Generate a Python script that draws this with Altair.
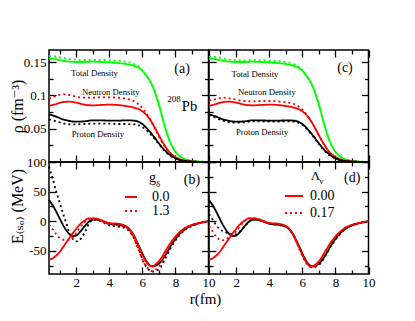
import altair as alt
import pandas as pd

# ---------------- data ----------------
r_rho = [0.36, 0.8, 1.2, 1.6, 2.0, 2.5, 3.0, 3.5, 4.0, 4.5, 5.0, 5.5, 5.8, 6.1,
         6.4, 6.7, 7.0, 7.3, 7.6, 7.9, 8.2, 8.5, 8.9, 9.3, 10.0]

# solid lines (g_delta = 0 / Lambda_v = 0), same in (a) and (c)
rho_total_0 = [0.155, 0.154, 0.152, 0.1505, 0.150, 0.150, 0.1505, 0.150, 0.1495, 0.1485, 0.147, 0.144, 0.141,
               0.134, 0.124, 0.109, 0.0865, 0.059, 0.035, 0.019, 0.010, 0.005, 0.002, 0.001, 0.0]
rho_neutron_0 = [0.084, 0.087, 0.090, 0.0905, 0.089, 0.086, 0.085, 0.0855, 0.086, 0.0855, 0.084, 0.0815, 0.079,
                 0.074, 0.066, 0.054, 0.040, 0.027, 0.016, 0.009, 0.005, 0.0025, 0.001, 0.0004, 0.0]
rho_proton_0 = [0.0715, 0.068, 0.064, 0.0615, 0.0605, 0.061, 0.0625, 0.0625, 0.062, 0.062, 0.0625, 0.062, 0.060,
                0.055, 0.047, 0.038, 0.028, 0.019, 0.012, 0.007, 0.0035, 0.0017, 0.0007, 0.0003, 0.0]
# dotted lines in (a): g_delta = 1.3
rho_total_g13 = [0.159, 0.158, 0.156, 0.1545, 0.1535, 0.153, 0.153, 0.153, 0.1525, 0.152, 0.1505, 0.147, 0.143,
                 0.135, 0.124, 0.109, 0.0865, 0.059, 0.035, 0.019, 0.010, 0.005, 0.002, 0.001, 0.0]
rho_neutron_g13 = [0.095, 0.099, 0.1015, 0.1005, 0.098, 0.0965, 0.0965, 0.097, 0.097, 0.0965, 0.095, 0.091, 0.086,
                   0.078, 0.067, 0.053, 0.038, 0.025, 0.015, 0.008, 0.004, 0.002, 0.0008, 0.0003, 0.0]
rho_proton_g13 = [0.064, 0.061, 0.058, 0.0565, 0.0565, 0.057, 0.0575, 0.0575, 0.0575, 0.057, 0.057, 0.0565, 0.055,
                  0.051, 0.044, 0.036, 0.027, 0.018, 0.011, 0.006, 0.003, 0.0015, 0.0006, 0.0002, 0.0]
# dotted lines in (c): Lambda_v = 0.17
rho_total_l017 = [0.158, 0.1575, 0.1555, 0.1535, 0.1525, 0.1525, 0.153, 0.1525, 0.152, 0.1515, 0.150, 0.1465, 0.1425,
                  0.135, 0.124, 0.109, 0.0865, 0.059, 0.035, 0.019, 0.010, 0.005, 0.002, 0.001, 0.0]
rho_neutron_l017 = [0.092, 0.0945, 0.0965, 0.0955, 0.0935, 0.0915, 0.091, 0.0915, 0.0915, 0.091, 0.0895, 0.087, 0.083,
                    0.076, 0.066, 0.054, 0.040, 0.027, 0.016, 0.009, 0.005, 0.0025, 0.001, 0.0004, 0.0]
rho_proton_l017 = [0.0705, 0.066, 0.062, 0.0595, 0.059, 0.0595, 0.061, 0.061, 0.0605, 0.0605, 0.061, 0.0605, 0.0585,
                   0.054, 0.046, 0.037, 0.027, 0.018, 0.011, 0.0065, 0.0033, 0.0016, 0.0006, 0.0002, 0.0]

r_eso = [0.36, 0.6, 0.8, 1.0, 1.2, 1.4, 1.6, 1.8, 2.0, 2.2, 2.5, 2.8, 3.1, 3.5, 4.0, 4.5,
         5.0, 5.4, 5.8, 6.1, 6.4, 6.6, 6.8, 7.1, 7.4, 7.8, 8.2, 8.6, 9.0, 9.5, 10.0]
eso_black_0 = [36, 26, 16, 5, -6, -15, -22, -25, -24, -19, -9, 0, 3, 1, -4, -6,
               -9, -20, -42, -60, -73, -76, -75, -69, -57, -38, -23, -13, -7, -3, 0]
eso_red_0 = [-65, -62, -58, -52, -44, -36, -28, -20, -13, -6, 1, 5, 5, 2, -3, -4,
             -8, -20, -44, -62, -74, -76, -73, -64, -50, -33, -20, -11, -6, -2.5, 0]
eso_black_g13 = [92, 70, 50, 32, 14, -3, -20, -30, -34, -32, -20, -3, 3, 0, -7, -9,
                 -12, -24, -48, -70, -82, -85, -84, -78, -62, -41, -25, -14, -8, -3, 0]
eso_red_g13 = [-6, -14, -22, -28, -31, -32, -31, -27, -20, -12, -2, 4, 4, 1, -5, -7,
               -10, -23, -50, -70, -81, -84, -82, -73, -56, -37, -22, -12, -7, -2.5, 0]
eso_black_l017 = [12, 2, -7, -13, -17, -19, -21, -22, -22, -18, -9, 0, 3, 1, -4, -6,
                  -9, -21, -43, -62, -75, -78, -77, -71, -58, -39, -24, -13, -7, -3, 0]
eso_red_l017 = [-8, -18, -26, -31, -32, -30, -26, -22, -17, -10, 0, 5, 5, 2, -3, -5,
                -8, -21, -46, -64, -76, -78, -75, -66, -51, -34, -21, -11, -6, -2.5, 0]

species_names = ["Total", "Neutron", "Proton"]
species_colors = ["#00ff00", "#ff0000", "#000000"]

x_major = [2, 4, 6, 8, 10]
x_minor = [1, 3, 5, 7, 9]
rho_major = [0, 0.05, 0.1, 0.15]
rho_minor = [0.025, 0.075, 0.125]
eso_major = [-50, 0, 50, 100]
eso_minor = [-75, -25, 25, 75]

# annotations
a_text = ["Total Density", "Neutron Density", "Proton Density"]
a_text_r = [3.11, 4.09, 3.32]
a_text_v = [0.134, 0.105, 0.0416]
c_text = ["Total Density", "Neutron Density", "Proton Density"]
c_text_r = [3.14, 3.86, 3.57]
c_text_v = [0.1325, 0.105, 0.045]

FONT = "'Liberation Serif', 'Times New Roman', 'DejaVu Serif', serif"
W, H = 159.5, 112
MAJ, MIN = 7, 4
XDOM = [0.36, 10]
RHODOM = [0, 0.168]
ESODOM = [-89, 100]


def frame(r, rows, dash_field):
    recs = []
    for species, dash, vals in rows:
        for ri, v in zip(r, vals):
            recs.append({"r": ri, "v": v, "species": species, dash_field: dash})
    return pd.DataFrame(recs)


def axis(orient, values, size, labels=False, **extra):
    d = dict(orient=orient, values=values, tickSize=size, offset=-size, domain=False, grid=False,
             ticks=True, tickColor="black", tickWidth=1.3, labels=labels, minExtent=0)
    if labels:
        d.update(labelExpr="'' + datum.value", labelFont=FONT, labelFontSize=13,
                 labelColor="black", labelFlush=False, labelOverlap=False)
    if "title" not in extra:
        d["title"] = None
    else:
        d.update(titleFont=FONT, titleFontWeight="normal", titleColor="black")
    d.update(extra)
    return alt.Axis(**d)


color_scale = alt.Scale(domain=species_names, range=species_colors)


def text_layer(t, r, v, xs, ys, size, **kw):
    df = pd.DataFrame({"t": t, "r": r, "v": v})
    return alt.Chart(df).mark_text(font=FONT, fontSize=size, color="black", **kw).encode(
        x=alt.X("r:Q", scale=xs, axis=None),
        y=alt.Y("v:Q", scale=ys, axis=None),
        text="t:N",
    )


def panel(df, ydom, y_major, y_minor, dash_enc, left_labels, bottom_labels, texts,
          xextra=None, yextra=None):
    xs = alt.Scale(domain=XDOM, nice=False, zero=False)
    ys = alt.Scale(domain=ydom, nice=False, zero=False)
    base = alt.Chart(df)
    xextra = xextra or {}
    yextra = yextra or {}
    lines = base.mark_line(strokeWidth=1.8, interpolate="monotone").encode(
        x=alt.X("r:Q", scale=xs, axis=axis("bottom", x_major, MAJ, bottom_labels, labelPadding=2, **xextra)),
        y=alt.Y("v:Q", scale=ys, axis=axis("left", y_major, MAJ, left_labels, labelPadding=3, **yextra)),
        color=alt.Color("species:N", scale=color_scale, legend=None),
        strokeDash=dash_enc,
    )
    l2 = base.mark_point(opacity=0).encode(
        x=alt.X("r:Q", scale=xs, axis=axis("top", x_major, MAJ)),
        y=alt.Y("v:Q", scale=ys, axis=axis("right", y_major, MAJ)),
    )
    l3 = base.mark_point(opacity=0).encode(
        x=alt.X("r:Q", scale=xs, axis=axis("bottom", x_minor, MIN)),
        y=alt.Y("v:Q", scale=ys, axis=axis("left", y_minor, MIN)),
    )
    l4 = base.mark_point(opacity=0).encode(
        x=alt.X("r:Q", scale=xs, axis=axis("top", x_minor, MIN)),
        y=alt.Y("v:Q", scale=ys, axis=axis("right", y_minor, MIN)),
    )
    layers = [lines, l2, l3, l4]
    for t in texts:
        t = dict(t)
        layers.append(text_layer(t.pop("t"), t.pop("r"), t.pop("v"), xs, ys, t.pop("size"), **t))
    return alt.layer(*layers).resolve_axis(x="independent", y="independent").properties(width=W, height=H)


DASH_RANGE = [[1, 0], [2, 3]]


def legend(y, size, offset):
    return alt.Legend(orient="none", legendX=75, legendY=y, title=None,
                      symbolType="stroke", symbolSize=size, symbolStrokeWidth=2,
                      symbolStrokeColor="#ff0000", labelFont=FONT, labelFontSize=14,
                      labelColor="black", labelOffset=offset, rowPadding=-3, padding=0)


# ----- panel (a)
df_a = frame(r_rho, [("Total", "solid", rho_total_0), ("Total", "dotted", rho_total_g13),
                     ("Neutron", "solid", rho_neutron_0), ("Neutron", "dotted", rho_neutron_g13),
                     ("Proton", "solid", rho_proton_0), ("Proton", "dotted", rho_proton_g13)], "dash")
dash_top = alt.StrokeDash("dash:N", scale=alt.Scale(domain=["solid", "dotted"], range=DASH_RANGE), legend=None)
pa = panel(df_a, RHODOM, rho_major, rho_minor, dash_top, True, False, [
    dict(t=a_text, r=a_text_r, v=a_text_v, size=8.7, baseline="middle"),
    dict(t=["(a)"], r=[8.4], v=[0.14], size=14, baseline="middle"),
    dict(t=["208"], r=[7.91], v=[0.094], size=9, baseline="middle"),
    dict(t=["Pb"], r=[8.85], v=[0.0825], size=14.5, baseline="middle"),
], yextra=dict(title="ρ (fm⁻³)", titleX=-31, titleY=56, titleFontSize=16, titleAngle=270,
               titleBaseline="bottom", titleAlign="center",
               labelExpr="datum.value == 0 ? '' : '' + datum.value"))

# ----- panel (c)
df_c = frame(r_rho, [("Total", "solid", rho_total_0), ("Total", "dotted", rho_total_l017),
                     ("Neutron", "solid", rho_neutron_0), ("Neutron", "dotted", rho_neutron_l017),
                     ("Proton", "solid", rho_proton_0), ("Proton", "dotted", rho_proton_l017)], "dash")
pc = panel(df_c, RHODOM, rho_major, rho_minor, dash_top, False, False, [
    dict(t=c_text, r=c_text_r, v=c_text_v, size=8.7, baseline="middle"),
    dict(t=["(c)"], r=[8.58], v=[0.1415], size=14, baseline="middle"),
])

# ----- panel (b)
df_b = frame(r_eso, [("Proton", "0.0", eso_black_0), ("Proton", "1.3", eso_black_g13),
                     ("Neutron", "0.0", eso_red_0), ("Neutron", "1.3", eso_red_g13)], "g_delta")
dash_b = alt.StrokeDash("g_delta:N", scale=alt.Scale(domain=["0.0", "1.3"], range=DASH_RANGE),
                        legend=legend(28, 144, 14))
pb = panel(df_b, ESODOM, eso_major, eso_minor, dash_b, True, True, [
    dict(t=["(b)"], r=[9.0], v=[69], size=14, baseline="middle"),
    dict(t=["g"], r=[6.61], v=[65.5], size=14, baseline="alphabetic"),
    dict(t=["δ"], r=[6.95], v=[57], size=9, baseline="alphabetic"),
], xextra=dict(title="r(fm)", titleX=156, titleY=36, titleFontSize=15, titleBaseline="alphabetic",
               titleAlign="center"),
   yextra=dict(title="E₍ₛₒ₎ (MeV)", titleX=-31, titleY=44, titleFontSize=16, titleAngle=270,
               titleBaseline="bottom", titleAlign="center"))

# ----- panel (d)
df_d = frame(r_eso, [("Proton", "0.00", eso_black_0), ("Proton", "0.17", eso_black_l017),
                     ("Neutron", "0.00", eso_red_0), ("Neutron", "0.17", eso_red_l017)], "lambda_v")
dash_d = alt.StrokeDash("lambda_v:N", scale=alt.Scale(domain=["0.00", "0.17"], range=DASH_RANGE),
                        legend=legend(24, 324, 6))
pd_ = panel(df_d, ESODOM, eso_major, eso_minor, dash_d, False, True, [
    dict(t=["(d)"], r=[9.01], v=[73], size=14, baseline="middle"),
    dict(t=["Λ"], r=[6.8], v=[69.2], size=13, baseline="alphabetic"),
    dict(t=["v"], r=[7.16], v=[62.4], size=9, baseline="alphabetic"),
])

chart = (
    alt.concat(pa, pc, pb, pd_, columns=2, spacing=0, bounds="flush")
    .resolve_scale(strokeDash="independent", x="independent", y="independent")
    .resolve_legend(strokeDash="independent")
    .properties(padding={"left": 0, "top": 40, "right": 4, "bottom": 4})
    .configure_view(stroke="black", strokeWidth=1.5)
    .configure_axis(minExtent=0)
)

chart.save("out.html", embed_options={"renderer": "svg", "actions": False})
